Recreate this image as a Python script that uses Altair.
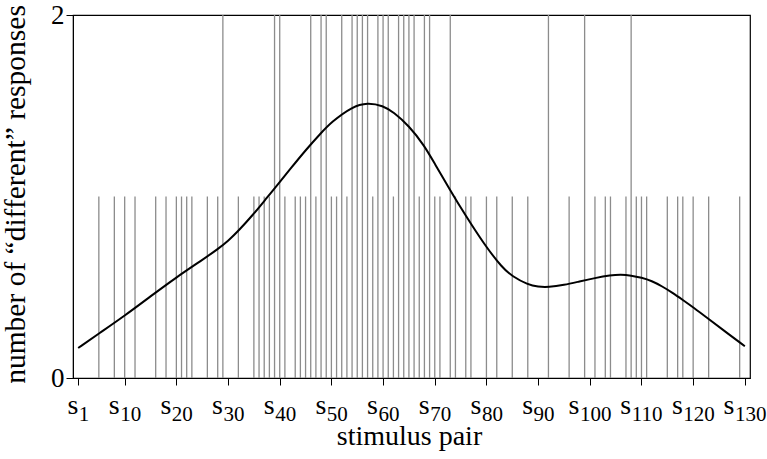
import altair as alt
import pandas as pd

# stimulus pairs that got one "different" response, and those that got two
pairs_one = [5, 8, 10, 12, 16, 18, 20, 21, 22, 23, 26, 28, 32, 35, 36, 37, 38, 41,
             43, 44, 45, 47, 50, 51, 53, 58, 62, 67, 70, 71, 74, 76, 77, 80, 82, 85,
             88, 96, 101, 103, 104, 107, 109, 110, 111, 115, 117, 118, 120, 123, 129]
pairs_two = [29, 39, 40, 46, 48, 49, 52, 54, 55, 56, 57, 59, 60, 61, 63, 64, 65, 66,
             68, 69, 73, 92, 99, 108]

# smoothed curve
curve_x = [1, 5, 10, 15, 20, 25, 28, 30, 32, 35, 37, 40, 42, 45, 48, 50, 54, 57, 60,
           62, 65, 68, 70, 73, 75, 77, 80, 83, 85, 88, 90, 92, 95, 98, 101, 104, 106,
           108, 110, 112, 114, 116, 118, 120, 123, 126, 130]
curve_y = [0.165, 0.245, 0.343, 0.45, 0.555, 0.65, 0.71, 0.755, 0.81, 0.905, 0.975,
           1.08, 1.15, 1.255, 1.35, 1.41, 1.495, 1.518, 1.50, 1.465, 1.39, 1.28, 1.18,
           1.035, 0.94, 0.85, 0.72, 0.61, 0.56, 0.515, 0.502, 0.50, 0.512, 0.532,
           0.551, 0.566, 0.570, 0.565, 0.553, 0.535, 0.505, 0.47, 0.43, 0.39, 0.325,
           0.26, 0.175]

tick_values = [1, 10, 20, 30, 40, 50, 60, 70, 80, 90, 100, 110, 120, 130]
y_ticks = [0, 1, 2]

FONT = "Liberation Serif"
W, H = 677, 363
S_SIZE, D_SIZE = 28, 21

rules_df = pd.DataFrame({
    "pair": pairs_one + pairs_two,
    "count": [1] * len(pairs_one) + [2] * len(pairs_two),
})
curve_df = pd.DataFrame({"pair": curve_x, "value": curve_y})
ticks_df = pd.DataFrame({"pair": tick_values, "num": [str(v) for v in tick_values]})
ticks_df["nd"] = ticks_df["num"].str.len()

xs = alt.Scale(domain=[0, 131], nice=False, zero=False)
ys = alt.Scale(domain=[0, 2], nice=False)

rules = alt.Chart(rules_df).mark_rule(color="#8c8c8c", strokeWidth=1.3).encode(
    x=alt.X("pair:Q", scale=xs, axis=alt.Axis(
        values=tick_values, labels=False, tickSize=7, tickColor="black",
        domainColor="black", grid=False, title="stimulus pair",
        titleFont=FONT, titleFontSize=28, titleFontWeight="normal", titleColor="black",
        titleX=336, titleY=66, titleBaseline="alphabetic", titleAlign="center")),
    y=alt.Y("count:Q", scale=ys, axis=alt.Axis(
        values=y_ticks, format="d", tickSize=7, tickColor="black", domainColor="black",
        labelFont=FONT, labelFontSize=27, labelColor="black", labelPadding=2,
        grid=True, gridColor="black", gridDash=[1, 2], gridWidth=1,
        title="number of “different” responses", titleFont=FONT, titleFontSize=29.5,
        titleFontWeight="normal", titleColor="black", titleAngle=270,
        titleX=-49, titleY=179, titleBaseline="alphabetic", titleAlign="center")),
    y2=alt.datum(0),
)

curve = alt.Chart(curve_df).mark_line(
    color="black", strokeWidth=2, interpolate="basis"
).encode(x=alt.X("pair:Q", scale=xs), y=alt.Y("value:Q", scale=ys))

s_w = 0.389 * S_SIZE
d_w = 0.5 * D_SIZE
label_layers = []
for nd in [1, 2, 3]:
    off = s_w - (s_w + nd * d_w) / 2
    sub = ticks_df[ticks_df["nd"] == nd]
    label_layers.append(
        alt.Chart(sub).mark_text(text="s", font=FONT, fontSize=S_SIZE, align="right",
                                 baseline="alphabetic", dx=off, color="black")
        .encode(x=alt.X("pair:Q", scale=xs), y=alt.value(H + 36))
    )
    label_layers.append(
        alt.Chart(sub).mark_text(font=FONT, fontSize=D_SIZE, align="left",
                                 baseline="alphabetic", dx=off + 0.5, color="black")
        .encode(x=alt.X("pair:Q", scale=xs), y=alt.value(H + 43), text="num:N")
    )

chart = alt.layer(rules, curve, *label_layers).properties(
    width=W, height=H,
    background="white",
    autosize=alt.AutoSizeParams(type="none"),
    padding={"left": 73, "top": 15, "right": 17, "bottom": 81},
).configure_view(stroke="black", strokeWidth=1.2)

chart.save("out.html", embed_options={"renderer": "svg", "actions": False})
